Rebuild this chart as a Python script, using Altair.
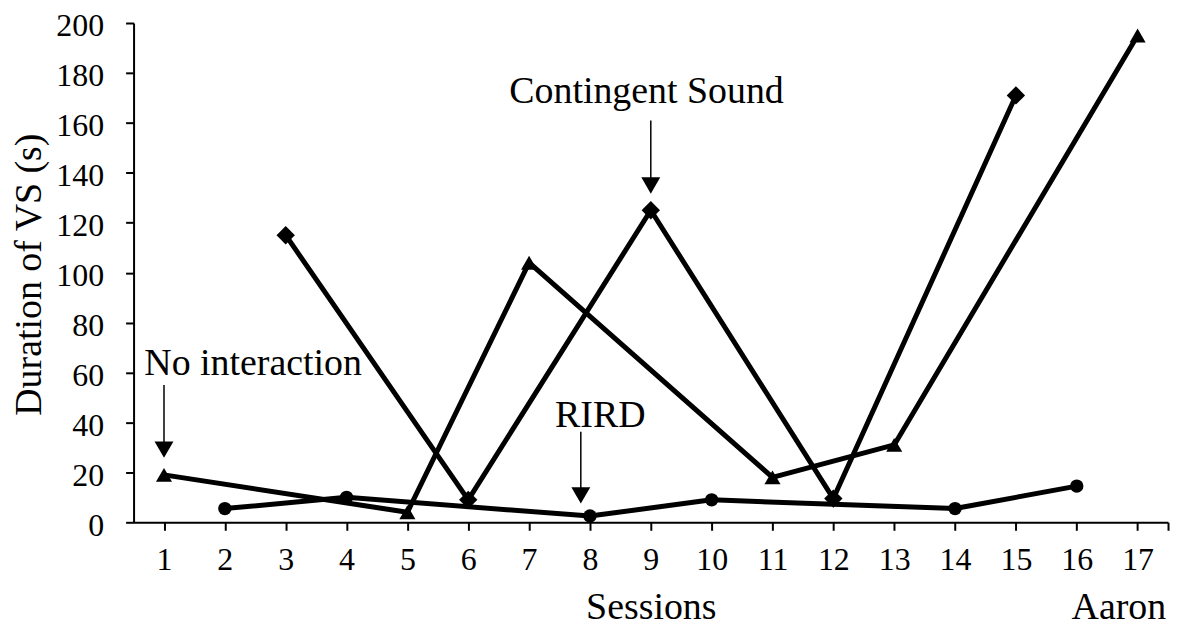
import altair as alt
import pandas as pd

FONT = "Liberation Serif"

# Sessions on the x axis
sessions = list(range(1, 18))
y_ticks = list(range(0, 201, 20))

# Series (alternating treatments)
ni_sessions = [1, 5, 7, 11, 13, 17]
ni_values = [19, 4, 104, 18, 31, 195]

rird_sessions = [2, 4, 8, 10, 14, 16]
rird_values = [5.5, 10, 2.5, 9, 5.5, 14.5]

cs_sessions = [3, 6, 9, 12, 15]
cs_values = [115, 9, 125, 9.5, 171]

series_names = ["No interaction", "RIRD", "Contingent Sound"]

# Annotation labels with arrows
ann_labels = ["No interaction", "RIRD", "Contingent Sound"]
ann_x = [2.465, 8.17, 8.93]
ann_y = [59.1, 38.3, 168.1]

arrow_x = [1.0, 7.85, 9.0]
arrow_top = [55.0, 36.3, 160.9]
arrow_head = [29.1, 10.8, 134.9]

corner_label = ["Aaron"]
corner_x = [17.47]
corner_y = [-38.6]

rows = []
for name, ss, vv in [(series_names[0], ni_sessions, ni_values),
                     (series_names[1], rird_sessions, rird_values),
                     (series_names[2], cs_sessions, cs_values)]:
    for s, v in zip(ss, vv):
        rows.append({"series": name, "session": s, "value": v})
df = pd.DataFrame(rows)

ann_df = pd.DataFrame({"label": ann_labels, "session": ann_x, "value": ann_y})
arrow_df = pd.DataFrame({"session": arrow_x, "value": arrow_top, "head": arrow_head})
head_df = pd.DataFrame({"session": arrow_x, "value": arrow_head})
corner_df = pd.DataFrame({"label": corner_label, "session": corner_x, "value": corner_y})

x_enc = alt.X(
    "session:Q",
    scale=alt.Scale(domain=[0.5, 17.5], nice=False, zero=False),
    axis=alt.Axis(
        values=sessions + [17.5],
        labelExpr="datum.value == 17.5 ? '' : datum.label",
        title="Sessions",
        grid=False,
        tickSize=8, tickWidth=2, tickColor="black",
        domainColor="black", domainWidth=2,
        labelFont=FONT, labelFontSize=32, labelColor="black",
        labelPadding=14, labelFlush=False, labelOverlap=False,
        titleFont=FONT, titleFontSize=38, titleFontWeight="normal",
        titleColor="black", titleBaseline="alphabetic", titleY=97,
    ),
)
y_enc = alt.Y(
    "value:Q",
    scale=alt.Scale(domain=[0, 200], nice=False),
    axis=alt.Axis(
        values=y_ticks,
        title="Duration of VS (s)",
        grid=False,
        tickSize=8, tickWidth=2, tickColor="black",
        domainColor="black", domainWidth=2,
        labelFont=FONT, labelFontSize=32, labelColor="black",
        labelPadding=22, labelOffset=3, labelFlush=False, labelOverlap=False,
        titleFont=FONT, titleFontSize=38, titleFontWeight="normal",
        titleColor="black", titleAngle=270, titleBaseline="alphabetic",
        titleAlign="center", titleX=-93, titleY=252,
    ),
)

lines = alt.Chart(df).mark_line(color="black", strokeWidth=5, strokeJoin="round").encode(
    x=x_enc, y=y_enc, detail="series:N", order="session:Q"
)
tri = alt.Chart(df).transform_filter(alt.datum.series == series_names[0]).mark_point(
    filled=True, color="black", opacity=1, shape="triangle-up", size=260
).encode(x=x_enc, y=y_enc)
circ = alt.Chart(df).transform_filter(alt.datum.series == series_names[1]).mark_point(
    filled=True, color="black", opacity=1, shape="circle", size=180
).encode(x=x_enc, y=y_enc)
diam = alt.Chart(df).transform_filter(alt.datum.series == series_names[2]).mark_point(
    filled=True, color="black", opacity=1, shape="square", angle=45, size=170
).encode(x=x_enc, y=y_enc)

shafts = alt.Chart(arrow_df).mark_rule(color="black", strokeWidth=1.5).encode(
    x=x_enc, y=y_enc, y2="head:Q"
)
heads = alt.Chart(head_df).mark_point(filled=True, color="black", opacity=1, shape="triangle-down", size=361).encode(
    x=x_enc, y=y_enc
)
ann = alt.Chart(ann_df).mark_text(font=FONT, fontSize=38, color="black", align="center", baseline="alphabetic").encode(
    x=x_enc, y=y_enc, text="label:N"
)
corner = alt.Chart(corner_df).mark_text(font=FONT, fontSize=38, color="black", align="right", baseline="alphabetic").encode(
    x=x_enc, y=y_enc, text="label:N"
)

chart = alt.layer(lines, tri, circ, diam, shafts, heads, ann, corner).properties(
    width=1038, height=501,
    autosize=alt.AutoSizeParams(type="none"),
    padding={"left": 126, "top": 14, "right": 6, "bottom": 105},
    background="white",
).configure_view(stroke=None)

chart.save("out.html", embed_options={"renderer": "svg", "actions": False})
